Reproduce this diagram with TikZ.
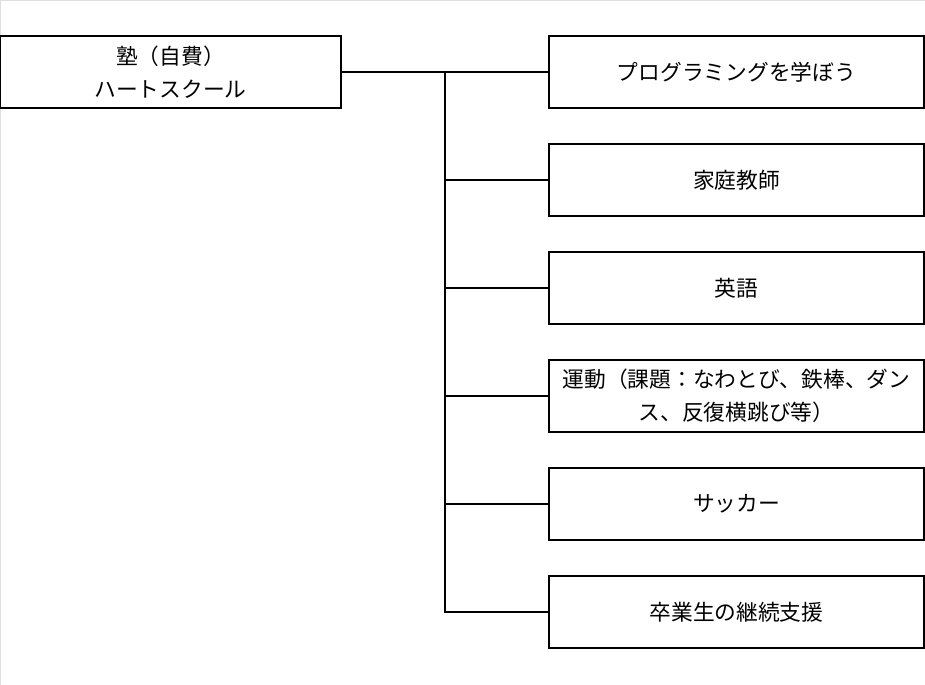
\documentclass[tikz,border=0pt]{standalone}
\usepackage{fontspec}
\setmainfont{Noto Sans CJK JP}
\begin{document}
\begin{tikzpicture}
[x=0.75pt,y=-0.75pt,
  boxdecorate/.style={shape=rectangle,draw,thick,minimum width=375*0.75pt,minimum height=72*0.75pt,inner sep=0pt,align=center,font=\fontsize{16.3}{25}\selectfont},
  rootdecorate/.style={boxdecorate,minimum width=341*0.75pt},
  linedecorate/.style={thick}]
\useasboundingbox (0,0) rectangle (925,685);
\draw[gray!25,line width=1.5pt] (0,685) -- (0,0) -- (925,0);
% nodes
\node (root) at (170.5,72) [rootdecorate] {塾（自費）\\ハートスクール};
\node (prog) at (736.5,72) [boxdecorate] {プログラミングを学ぼう};
\node (tutor) at (736.5,180) [boxdecorate] {家庭教師};
\node (eng) at (736.5,288) [boxdecorate] {英語};
\node (sport) at (736.5,396) [boxdecorate] {運動（課題：なわとび、鉄棒、ダン\\ス、反復横跳び等）};
\node (soccer) at (736.5,504) [boxdecorate] {サッカー};
\node (alumni) at (736.5,612) [boxdecorate] {卒業生の継続支援};
\coordinate (trunk) at (445,72);
% edges
\path
(root) edge[linedecorate] (prog)
(trunk) edge[linedecorate,to path={|- (\tikztotarget)}] (tutor.west)
(trunk) edge[linedecorate,to path={|- (\tikztotarget)}] (eng.west)
(trunk) edge[linedecorate,to path={|- (\tikztotarget)}] (sport.west)
(trunk) edge[linedecorate,to path={|- (\tikztotarget)}] (soccer.west)
(trunk) edge[linedecorate,to path={|- (\tikztotarget)}] (alumni.west);
\end{tikzpicture}
\end{document}
